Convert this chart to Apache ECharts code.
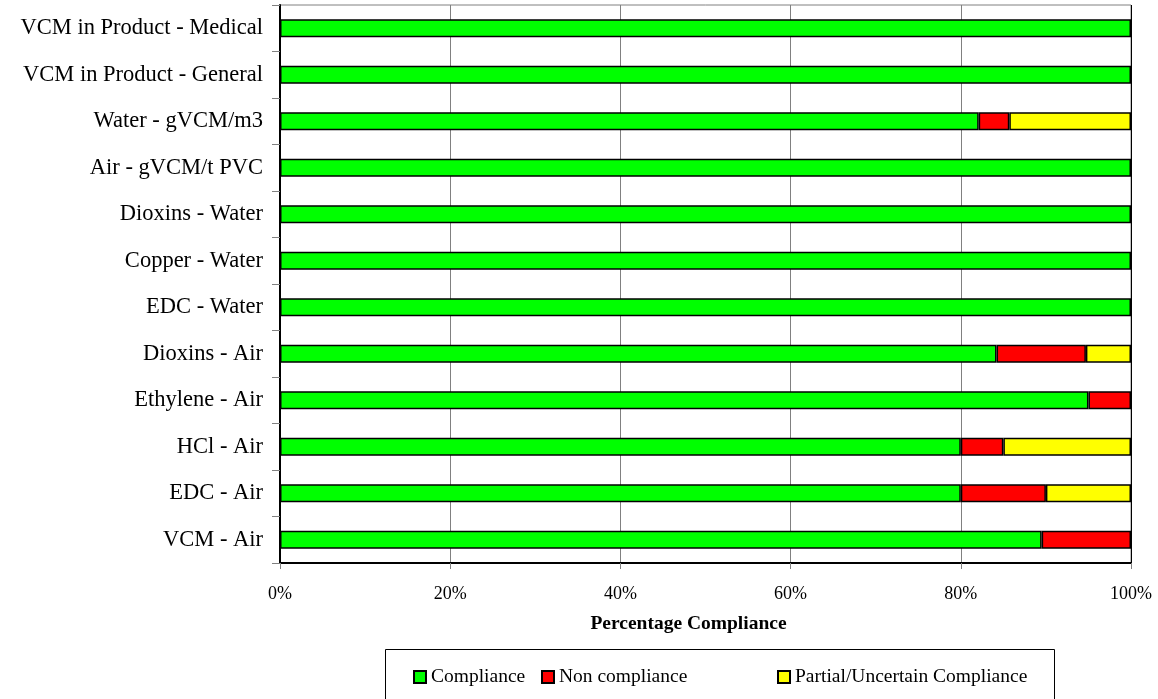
<!DOCTYPE html>
<html>
<head>
<meta charset="utf-8">
<script src="https://cdn.jsdelivr.net/npm/echarts@6/dist/echarts.min.js"></script>
<style>
  html, body { margin: 0; padding: 0; background: #fff; }
  #chart { width: 1158px; height: 699px; }
</style>
</head>
<body>
<div id="chart"></div>
<script>
// Compliance categories, listed bottom to top as drawn on the vertical axis
const categories = [
  'VCM - Air', 'EDC - Air', 'HCl - Air', 'Ethylene - Air', 'Dioxins - Air',
  'EDC - Water', 'Copper - Water', 'Dioxins - Water', 'Air - gVCM/t PVC',
  'Water - gVCM/m3', 'VCM in Product - General', 'VCM in Product - Medical'
];
// Share of plants (%) in each compliance class
const compliance    = [89.5, 80, 80, 95, 84.2, 100, 100, 100, 100, 82.1, 100, 100];
const nonCompliance = [10.5, 10,  5,  5, 10.5,   0,   0,   0,   0,  3.6,   0,   0];
const partial       = [   0, 10, 15,  0,  5.3,   0,   0,   0,   0, 14.3,   0,   0];
const tickLabels = ['0%', '20%', '40%', '60%', '80%', '100%'];

const FONT = '"Liberation Serif", "Times New Roman", serif';
const nz = arr => arr.map(v => (v === 0 ? null : v));

function barSeries(name, data, color) {
  return {
    name, type: 'bar', stack: 'total', data: nz(data),
    barWidth: 18,
    itemStyle: { color, borderColor: '#000', borderWidth: 1.5 },
    emphasis: { disabled: true },
    animation: false
  };
}

function legendItem(name, left) {
  return {
    data: [name], left, top: 667, padding: 0,
    itemWidth: 12, itemHeight: 12, itemGap: 0,
    icon: 'rect', selectedMode: false,
    textStyle: { fontFamily: FONT, fontSize: 19.5, color: '#000' }
  };
}

const chart = echarts.init(document.getElementById('chart'), null, { renderer: 'canvas' });
chart.setOption({
  backgroundColor: '#fff',
  animation: false,
  grid: {
    left: 280, right: 27, top: 5, bottom: 136,
    show: true, borderColor: '#808080', borderWidth: 1, backgroundColor: 'transparent'
  },
  xAxis: {
    type: 'value', min: 0, max: 100, interval: 20,
    axisLine: { show: true, lineStyle: { color: '#000', width: 2 } },
    axisTick: { show: true, length: 6, lineStyle: { color: '#808080', width: 1 } },
    splitLine: { show: true, lineStyle: { color: ['#808080', '#808080', '#808080', '#808080', '#808080', '#000'], width: 1 } },
    axisLabel: {
      margin: 22, fontFamily: FONT, fontSize: 18, color: '#000',
      formatter: v => tickLabels[Math.round(v / 20)]
    },
    name: 'Percentage Compliance', nameLocation: 'middle', nameGap: 51,
    nameTextStyle: {
      fontFamily: FONT, fontSize: 19.5, fontWeight: 'bold', color: '#000',
      padding: [0, 34, 0, 0]
    }
  },
  yAxis: {
    type: 'category', data: categories,
    axisLine: { show: true, lineStyle: { color: '#000', width: 2 } },
    axisTick: { show: true, length: 8, lineStyle: { color: '#808080', width: 1 } },
    splitLine: { show: false },
    axisLabel: { margin: 17, fontFamily: FONT, fontSize: 22.5, color: '#000' }
  },
  legend: [
    legendItem('Compliance', 413),
    legendItem('Non compliance', 541),
    legendItem('Partial/Uncertain Compliance', 777)
  ],
  graphic: [{
    type: 'rect', left: 383, top: 647,
    shape: { width: 669, height: 60 },
    style: { fill: 'none', stroke: '#000', lineWidth: 1 },
    silent: true, z: -1
  }],
  series: [
    barSeries('Compliance', compliance, '#00ff00'),
    barSeries('Non compliance', nonCompliance, '#ff0000'),
    barSeries('Partial/Uncertain Compliance', partial, '#ffff00')
  ]
});
</script>
</body>
</html>
